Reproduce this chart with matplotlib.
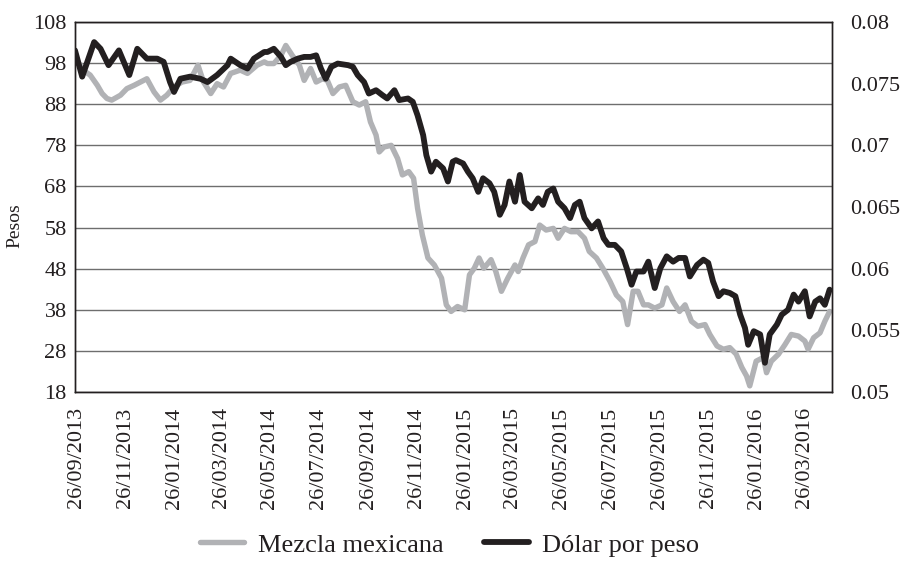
import matplotlib.pyplot as plt
import pandas as pd

# Mezcla mexicana (pesos, left axis)
mezcla_dates = ['2013-09-24', '2013-10-01', '2013-10-07', '2013-10-13', '2013-10-22', '2013-10-28',
                '2013-11-03', '2013-11-09', '2013-11-20', '2013-11-28', '2013-12-07', '2013-12-15',
                '2013-12-23', '2014-01-01', '2014-01-09', '2014-01-17', '2014-01-26', '2014-02-05',
                '2014-02-15', '2014-02-25', '2014-03-04', '2014-03-13', '2014-03-21', '2014-03-29',
                '2014-04-07', '2014-04-19', '2014-04-28', '2014-05-10', '2014-05-19', '2014-05-23',
                '2014-05-31', '2014-06-09', '2014-06-15', '2014-06-23', '2014-07-02', '2014-07-08',
                '2014-07-16', '2014-07-23', '2014-07-31', '2014-08-06', '2014-08-13', '2014-08-21',
                '2014-08-29', '2014-09-07', '2014-09-15', '2014-09-23', '2014-09-29', '2014-10-06',
                '2014-10-10', '2014-10-16', '2014-10-25', '2014-11-02', '2014-11-08', '2014-11-16',
                '2014-11-22', '2014-11-27', '2014-12-03', '2014-12-10', '2014-12-18', '2014-12-27',
                '2015-01-02', '2015-01-08', '2015-01-16', '2015-01-25', '2015-01-31', '2015-02-06',
                '2015-02-12', '2015-02-18', '2015-02-27', '2015-03-05', '2015-03-12', '2015-03-20',
                '2015-03-29', '2015-04-02', '2015-04-08', '2015-04-15', '2015-04-23', '2015-04-29',
                '2015-05-07', '2015-05-16', '2015-05-22', '2015-05-30', '2015-06-07', '2015-06-16',
                '2015-06-24', '2015-06-30', '2015-07-09', '2015-07-17', '2015-07-26', '2015-08-03',
                '2015-08-11', '2015-08-17', '2015-08-24', '2015-08-30', '2015-09-06', '2015-09-12',
                '2015-09-20', '2015-09-29', '2015-10-05', '2015-10-13', '2015-10-21', '2015-10-28',
                '2015-11-05', '2015-11-13', '2015-11-22', '2015-11-28', '2015-12-07', '2015-12-15',
                '2015-12-23', '2015-12-31', '2016-01-07', '2016-01-13', '2016-01-17', '2016-01-25',
                '2016-02-03', '2016-02-07', '2016-02-13', '2016-02-22', '2016-03-01', '2016-03-09',
                '2016-03-18', '2016-03-26', '2016-03-30', '2016-04-06', '2016-04-14', '2016-04-20',
                '2016-04-26']
mezcla = [98.3, 97.5, 95.9, 95.1, 92.6, 90.6,
          89.4, 89.0, 90.2, 91.8, 92.6, 93.4,
          94.2, 91.0, 89.0, 90.2, 92.2, 93.4,
          93.8, 97.5, 93.4, 90.6, 93.0, 92.2,
          95.5, 96.3, 95.5, 97.5, 98.3, 97.9,
          97.9, 99.9, 102.3, 99.9, 97.5, 93.8,
          96.7, 93.4, 94.2, 93.8, 90.6, 92.2,
          92.6, 88.6, 87.8, 88.6, 83.7, 80.5,
          76.4, 77.6, 78.0, 74.8, 70.8, 71.6,
          70.0, 62.7, 56.2, 50.6, 48.9, 45.7,
          39.2, 37.6, 38.8, 38.0, 46.5, 48.1,
          50.6, 48.1, 50.2, 47.3, 42.5, 45.7,
          48.9, 47.3, 50.6, 53.8, 54.6, 58.6,
          57.4, 57.8, 55.4, 57.8, 57.0, 57.0,
          55.4, 52.2, 50.6, 48.1, 44.9, 41.6,
          40.0, 34.4, 42.5, 42.5, 39.2, 39.2,
          38.4, 39.2, 43.3, 40.0, 37.6, 39.2,
          35.2, 34.0, 34.4, 32.0, 29.2, 28.4,
          28.8, 27.2, 24.0, 21.9, 19.5, 25.5,
          26.4, 22.7, 25.5, 27.2, 29.5, 32.0,
          31.6, 30.4, 28.4, 31.2, 32.4, 35.2,
          37.6]

# Dolar por peso (right axis)
dolar_dates = ['2013-09-24', '2013-10-03', '2013-10-18', '2013-10-26', '2013-11-05', '2013-11-18',
               '2013-12-01', '2013-12-11', '2013-12-23', '2014-01-05', '2014-01-13', '2014-01-21',
               '2014-01-26', '2014-02-03', '2014-02-15', '2014-02-28', '2014-03-09', '2014-03-21',
               '2014-04-03', '2014-04-07', '2014-04-19', '2014-04-28', '2014-05-06', '2014-05-19',
               '2014-05-23', '2014-05-31', '2014-06-09', '2014-06-15', '2014-06-21', '2014-06-30',
               '2014-07-08', '2014-07-16', '2014-07-23', '2014-07-29', '2014-08-04', '2014-08-11',
               '2014-08-19', '2014-09-01', '2014-09-07', '2014-09-13', '2014-09-21', '2014-09-27',
               '2014-10-06', '2014-10-14', '2014-10-20', '2014-10-29', '2014-11-04', '2014-11-15',
               '2014-11-21', '2014-11-27', '2014-12-04', '2014-12-08', '2014-12-14', '2014-12-20',
               '2014-12-29', '2015-01-04', '2015-01-10', '2015-01-14', '2015-01-23', '2015-01-29',
               '2015-02-04', '2015-02-11', '2015-02-17', '2015-02-25', '2015-03-03', '2015-03-10',
               '2015-03-16', '2015-03-22', '2015-03-29', '2015-04-04', '2015-04-10', '2015-04-19',
               '2015-04-27', '2015-05-03', '2015-05-09', '2015-05-16', '2015-05-22', '2015-05-30',
               '2015-06-06', '2015-06-12', '2015-06-18', '2015-06-24', '2015-07-03', '2015-07-11',
               '2015-07-18', '2015-07-24', '2015-08-01', '2015-08-09', '2015-08-16', '2015-08-22',
               '2015-08-28', '2015-09-06', '2015-09-12', '2015-09-20', '2015-09-27', '2015-10-05',
               '2015-10-13', '2015-10-20', '2015-10-28', '2015-11-03', '2015-11-12', '2015-11-20',
               '2015-11-26', '2015-12-02', '2015-12-09', '2015-12-15', '2015-12-23', '2015-12-30',
               '2016-01-05', '2016-01-11', '2016-01-15', '2016-01-22', '2016-01-30', '2016-02-05',
               '2016-02-11', '2016-02-20', '2016-02-26', '2016-03-05', '2016-03-12', '2016-03-18',
               '2016-03-26', '2016-04-01', '2016-04-08', '2016-04-14', '2016-04-20', '2016-04-26']
dolar = [0.07770, 0.07557, 0.07837, 0.07783, 0.07650, 0.07770,
         0.07570, 0.07783, 0.07703, 0.07703, 0.07677, 0.07513,
         0.07433, 0.07540, 0.07557, 0.07540, 0.07513, 0.07570,
         0.07650, 0.07703, 0.07650, 0.07623, 0.07703, 0.07757,
         0.07757, 0.07783, 0.07717, 0.07650, 0.07677, 0.07703,
         0.07717, 0.07717, 0.07730, 0.07623, 0.07540, 0.07637,
         0.07663, 0.07650, 0.07637, 0.07570, 0.07513, 0.07420,
         0.07447, 0.07407, 0.07380, 0.07447, 0.07367, 0.07380,
         0.07353, 0.07243, 0.07083, 0.06920, 0.06787, 0.06867,
         0.06813, 0.06707, 0.06867, 0.06880, 0.06853, 0.06787,
         0.06733, 0.06623, 0.06733, 0.06693, 0.06623, 0.06437,
         0.06517, 0.06707, 0.06543, 0.06760, 0.06543, 0.06490,
         0.06570, 0.06517, 0.06623, 0.06650, 0.06543, 0.06490,
         0.06410, 0.06517, 0.06543, 0.06410, 0.06327, 0.06383,
         0.06247, 0.06193, 0.06193, 0.06140, 0.06003, 0.05870,
         0.05977, 0.05977, 0.06057, 0.05843, 0.06003, 0.06100,
         0.06057, 0.06087, 0.06087, 0.05937, 0.06030, 0.06073,
         0.06047, 0.05897, 0.05777, 0.05817, 0.05803, 0.05777,
         0.05627, 0.05520, 0.05383, 0.05493, 0.05467, 0.05237,
         0.05467, 0.05547, 0.05627, 0.05667, 0.05790, 0.05733,
         0.05817, 0.05613, 0.05733, 0.05760, 0.05707, 0.05830]

tick_dates = ['2013-09-26', '2013-11-26', '2014-01-26', '2014-03-26', '2014-05-26', '2014-07-26',
              '2014-09-26', '2014-11-26', '2015-01-26', '2015-03-26', '2015-05-26', '2015-07-26',
              '2015-09-26', '2015-11-26', '2016-01-26', '2016-03-26']
left_ticks = [18, 28, 38, 48, 58, 68, 78, 88, 98, 108]
right_ticks = [0.05, 0.055, 0.06, 0.065, 0.07, 0.075, 0.08]
right_labels = ['0.05', '0.055', '0.06', '0.065', '0.07', '0.075', '0.08']

plt.rcParams['font.family'] = ['Liberation Serif', 'DejaVu Serif']

fig = plt.figure(figsize=(9.09, 5.63), dpi=100)
ax1 = fig.add_axes([0.0825, 0.3037, 0.8328, 0.6572])
ax2 = ax1.twinx()

gray = '#b1b2b5'
black = '#231f20'

l1, = ax1.plot(pd.to_datetime(mezcla_dates), mezcla, color=gray, linewidth=3.9,
               solid_joinstyle='round', solid_capstyle='round', label='Mezcla mexicana')
l2, = ax2.plot(pd.to_datetime(dolar_dates), dolar, color=black, linewidth=4.2,
               solid_joinstyle='round', solid_capstyle='round', label='Dólar por peso')

ax1.set_xlim(pd.Timestamp('2013-09-24'), pd.Timestamp('2016-04-29'))
ax1.set_ylim(18, 108)
ax1.set_yticks(left_ticks)
ax2.set_ylim(0.05, 0.08)
ax2.set_yticks(right_ticks)
ax2.set_yticklabels(right_labels)

ticks = pd.to_datetime(tick_dates)
ax1.set_xticks(ticks)
ax1.set_xticklabels([t.strftime('%d/%m/%Y') for t in ticks], rotation=90)

ax1.grid(axis='y', color='#6e6e6e', linewidth=1.0)
ax1.set_axisbelow(True)

ax1.tick_params(axis='y', length=0, pad=6, labelsize=16, colors='#231f20')
ax1.tick_params(axis='x', length=0, pad=11, labelsize=16, colors='#231f20')
ax2.tick_params(axis='y', length=0, pad=13, labelsize=16, colors='#231f20')

for ax in (ax1, ax2):
    for s in ax.spines.values():
        s.set_color('#231f20')
        s.set_linewidth(1.0)

fig.text(0.0165, 0.60, 'Pesos', rotation=90, ha='center', va='center', fontsize=14, color='#231f20')

fig.legend(handles=[l1, l2], loc='center', bbox_to_anchor=(0.4945, 0.032), ncols=2, frameon=False,
           fontsize=19, handlelength=1.7, handletextpad=0.5, columnspacing=1.55,
           labelcolor='#231f20')

plt.savefig('out.png', dpi=100)
